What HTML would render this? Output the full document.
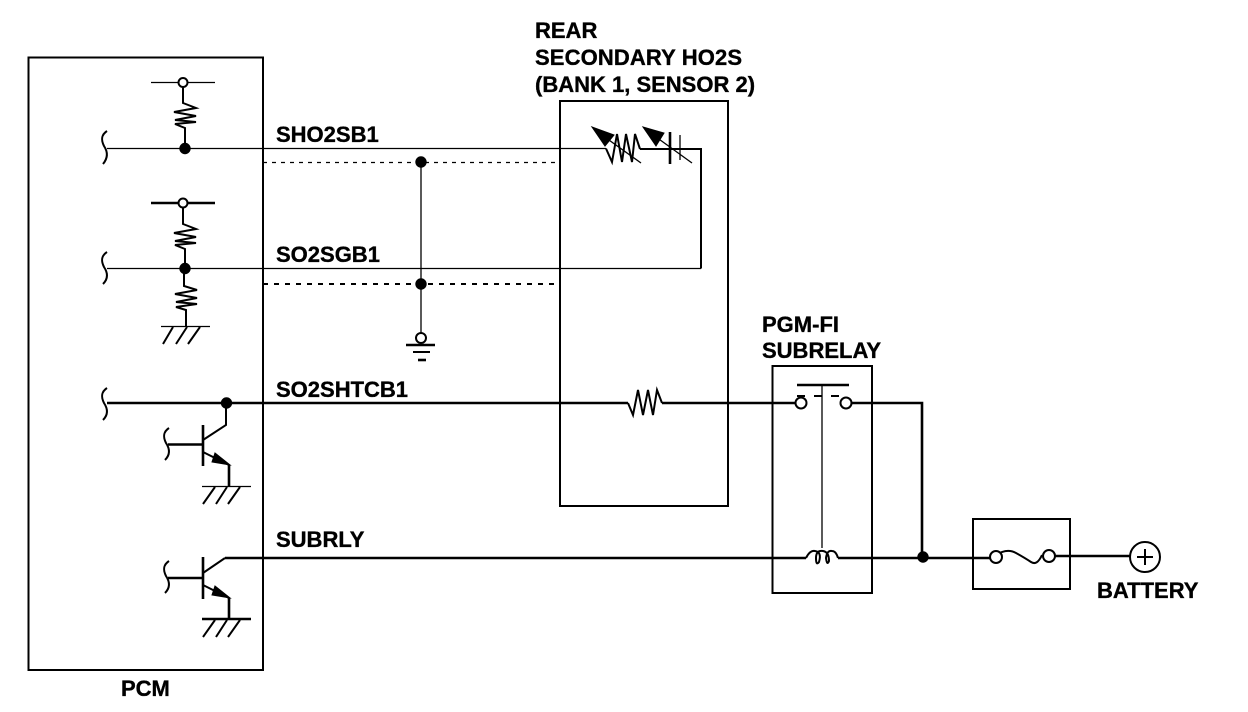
<!DOCTYPE html>
<html>
<head>
<meta charset="utf-8">
<style>
html,body{margin:0;padding:0;background:#fff;width:1248px;height:712px;overflow:hidden}
svg{display:block}
text{font-family:"Liberation Sans",sans-serif;font-weight:bold;font-size:22px;fill:#000;stroke:#000;stroke-width:.35}
.t{stroke:#000;fill:none;stroke-width:1.3}
.m{stroke:#000;fill:none;stroke-width:2}
.k{stroke:#000;fill:none;stroke-width:2.6}
.o{stroke:#000;fill:#fff;stroke-width:2}
</style>
</head>
<body>
<svg width="1248" height="712" viewBox="0 0 1248 712" xmlns="http://www.w3.org/2000/svg">
<!-- boxes -->
<rect x="28.500" y="57.500" width="234.500" height="612.500" class="m"/>
<rect x="560" y="101" width="168" height="405" class="m"/>
<rect x="772.500" y="366" width="99.500" height="227" class="m"/>
<rect x="973" y="519" width="97" height="70" class="m"/>

<!-- wires -->
<path class="t" d="M107 148.500H606"/>
<path class="t" d="M107 268.500H701"/>
<path class="m" d="M640 149H701V268.500"/>
<path class="k" d="M107 403H628"/>
<path class="k" d="M662 403H796"/>
<path class="k" d="M851 403H922V557"/>
<path class="k" d="M225 558H806"/>
<path class="k" d="M838 558H990"/>
<path class="t" d="M263 162.500H556" stroke-dasharray="4 5"/>
<path class="m" d="M263 284H556" stroke-dasharray="5 6"/>
<path class="t" d="M421 162V333"/>

<!-- brackets -->
<path class="m" d="M107 131C101 135 101 140 104 146C108 152 108 158 103 164"/>
<path class="m" d="M107 252C101 256 101 261 104 267C108 273 108 279 103 284"/>
<path class="m" d="M107 388C101 392 101 397 104 403C108 409 108 415 103 420"/>
<path class="m" d="M169 428C163 432 163 437 166 443C170 449 170 455 165 460"/>
<path class="m" d="M169 561C163 565 163 570 166 576C170 582 170 588 165 593"/>

<!-- top resistor -->
<path class="t" d="M151 82.500H215"/>
<circle cx="183" cy="82.500" r="4.500" class="o"/>
<path class="m" d="M183 87V103L196 108L174 112L196 116L175 120L196 122L175 124L185 128V148"/>
<circle cx="185" cy="148.500" r="5.700" fill="#000"/>

<!-- middle resistors -->
<path class="k" d="M151 203H215"/>
<circle cx="183" cy="203" r="4.500" class="o"/>
<path class="m" d="M183 208V224L196 229L174 233L196 237L175 241L196 243L175 245L185 249V268"/>
<circle cx="185" cy="268.500" r="5.700" fill="#000"/>
<path class="m" d="M184 268V286L197 290L175 294L197 298L176 302L197 304L176 307L186 310V326"/>
<path class="t" d="M161 326.500H210"/>
<path class="m" d="M173 327L163 344M187 327L176 344M200 327L188 344"/>

<!-- transistor 1 -->
<circle cx="226.500" cy="403" r="5.700" fill="#000"/>
<path class="m" d="M226 403V425L203 440"/>
<path class="k" d="M203 425V466"/>
<path class="k" d="M168 444.500H203"/>
<path class="m" d="M203 452L229 465"/>
<path d="M215 453L230 465L212 462Z" fill="#000" stroke="#000"/>
<path class="k" d="M229 465V486"/>
<path class="t" d="M202 486.500H251"/>
<path class="m" d="M215 487L203 504M227 487L216 504M240 487L228 504"/>

<!-- transistor 2 -->
<path class="m" d="M225 558L203 573"/>
<path class="k" d="M203 557V599"/>
<path class="k" d="M168 578H203"/>
<path class="m" d="M203 585L229 598"/>
<path d="M215 586L230 598L212 595Z" fill="#000" stroke="#000"/>
<path class="k" d="M229 598V619"/>
<path class="k" d="M202 619H251"/>
<path class="m" d="M215 620L203 637M227 620L216 637M240 620L228 637"/>

<!-- junctions and ground -->
<circle cx="421" cy="162" r="5.700" fill="#000"/>
<circle cx="421" cy="284" r="5.700" fill="#000"/>
<circle cx="421" cy="338" r="5" class="o"/>
<path class="k" d="M406 345H435"/>
<path class="m" d="M413 352H430"/>
<path class="k" d="M418 360H426"/>

<!-- sensor symbols -->
<path class="m" d="M606 148.500L612 162L617 134L622 162L626 134L632 162L635 134L640 149"/>
<path class="t" d="M595 130L641 163"/>
<path d="M592 127L614 135L605 146Z" fill="#000" stroke="#000"/>
<path class="k" d="M670 132V164"/>
<path class="t" d="M680 135V160"/>
<path class="t" d="M645 129L692 163"/>
<path d="M643 127L664 133L656 146Z" fill="#000" stroke="#000"/>

<!-- heater resistor -->
<path class="m" d="M628 403L633 415L638 390L643 415L648 390L653 415L657 390L662 403"/>

<!-- relay -->
<path class="k" d="M797 385H849"/>
<path class="t" d="M822 386V548"/>
<path class="m" d="M797 396H805M814 396H822M831 396H839"/>
<circle cx="801" cy="403" r="5.500" class="o"/>
<circle cx="846" cy="403" r="5.500" class="o"/>
<path class="m" d="M806 558Q810 550 815 551Q822 552 819 562Q816 566 816 558Q816 550 823 551Q829 552 829 561Q827 566 826 558Q827 550 832 551Q836 551 838 558"/>
<circle cx="923" cy="557" r="5.700" fill="#000"/>

<!-- fuse -->
<path class="m" d="M996 555Q1007 548 1016 553T1031 562T1042 555"/>
<circle cx="996" cy="557" r="6" class="o"/>
<circle cx="1049" cy="556" r="6" class="o"/>
<path class="k" d="M1055 556H1130"/>
<circle cx="1145" cy="557" r="15" class="o"/>
<path class="m" d="M1137 557H1153M1145 549V565"/>

<!-- labels -->
<text x="535" y="38">REAR</text>
<text x="535" y="65" textLength="207" lengthAdjust="spacing">SECONDARY HO2S</text>
<text x="535" y="92">(BANK 1, SENSOR 2)</text>
<text x="276" y="142">SHO2SB1</text>
<text x="276" y="262">SO2SGB1</text>
<text x="276" y="397">SO2SHTCB1</text>
<text x="276" y="547">SUBRLY</text>
<text x="762" y="332">PGM-FI</text>
<text x="762" y="358">SUBRELAY</text>
<text x="1097" y="598">BATTERY</text>
<text x="121" y="696">PCM</text>
</svg>
</body>
</html>
